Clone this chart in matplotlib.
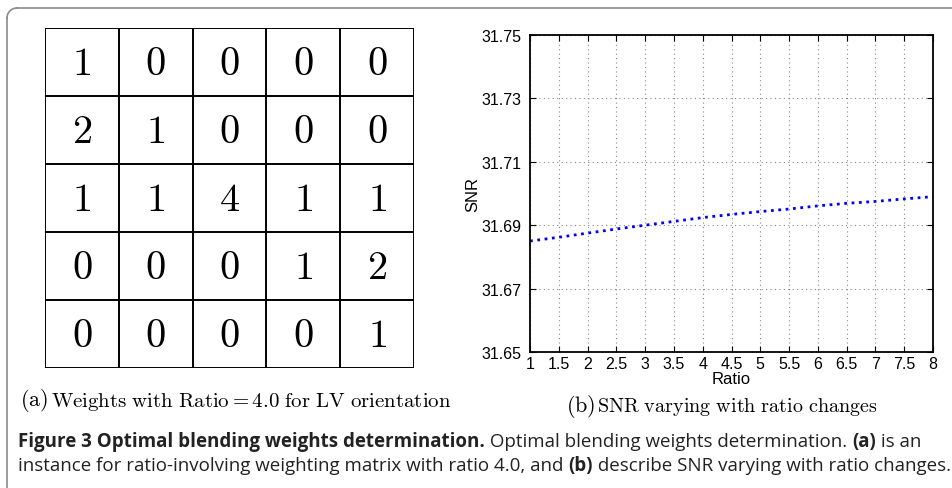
import matplotlib
matplotlib.use("Agg")
import matplotlib.pyplot as plt
from matplotlib.lines import Line2D
import numpy as np

weights = [[1, 0, 0, 0, 0],
           [2, 1, 0, 0, 0],
           [1, 1, 4, 1, 1],
           [0, 0, 0, 1, 2],
           [0, 0, 0, 0, 1]]

ratio = [1, 1.5, 2, 2.5, 3, 3.5, 4, 4.5, 5, 5.5, 6, 6.5, 7, 7.5, 8]
snr = [31.6850, 31.6862, 31.6875, 31.6888, 31.6900, 31.6912, 31.6924, 31.6934,
       31.6943, 31.6951, 31.6961, 31.6969, 31.6975, 31.6983, 31.6990]

xticks = [1, 1.5, 2, 2.5, 3, 3.5, 4, 4.5, 5, 5.5, 6, 6.5, 7, 7.5, 8]
xticklabels = ["1", "1.5", "2", "2.5", "3", "3.5", "4", "4.5", "5", "5.5", "6", "6.5", "7", "7.5", "8"]
yticks = [31.65, 31.67, 31.69, 31.71, 31.73, 31.75]
yticklabels = ["31.65", "31.67", "31.69", "31.71", "31.73", "31.75"]

caption_line1 = [("Figure 3 Optimal blending weights determination.", 'bold'),
                 (" Optimal blending weights determination. ", 'normal'),
                 ("(a)", 'bold'), (" is an", 'normal')]
caption_line2 = [("instance for ratio-involving weighting matrix with ratio 4.0, and ", 'normal'),
                 ("(b)", 'bold'), (" describe SNR varying with ratio changes.", 'normal')]

plt.rcParams['mathtext.fontset'] = 'cm'
W, H = 952, 489
fig = plt.figure(figsize=(W / 100, H / 100), dpi=100)


def fx(px):
    return px / W


def fy(py):
    return 1 - py / H


# frame: top and left gray lines with rounded corner
r = 10
fig.add_artist(Line2D([fx(7 + r), 1.0], [fy(9), fy(9)], color='#8a8a8a', lw=1.2))
fig.add_artist(Line2D([fx(7), fx(7)], [fy(9 + r), 0.0], color='#8a8a8a', lw=1.2))
theta = np.linspace(np.pi / 2, np.pi, 20)
fig.add_artist(Line2D(fx(7 + r + r * np.cos(theta)), fy(9 + r - r * np.sin(theta)),
                      color='#8a8a8a', lw=1.2))

# (a) matrix
ax1 = fig.add_axes([fx(45), fy(369), fx(414) - fx(45), fy(29) - fy(369)])
ax1.set_xlim(0, 5)
ax1.set_ylim(5, 0)
for k in range(6):
    ax1.plot([k, k], [0, 5], color='black', lw=1.4, solid_capstyle='projecting')
    ax1.plot([0, 5], [k, k], color='black', lw=1.4, solid_capstyle='projecting')
for i in range(5):
    for j in range(5):
        ax1.text(j + 0.5, i + 0.52, r"$%d$" % weights[i][j], ha='center', va='center',
                 fontsize=29)
ax1.axis('off')

fig.text(fx(20), fy(401), r"$(\mathrm{a})$", fontsize=16, va='center', ha='left')
fig.text(fx(51), fy(402), r"$\mathrm{Weights\ with\ Ratio} = 4.0\ \mathrm{for\ LV\ orientation}$",
         fontsize=15, va='center', ha='left')

# (b) line plot
ax2 = fig.add_axes([fx(530), fy(353), fx(933) - fx(530), fy(36) - fy(353)])
ax2.plot(ratio, snr, linestyle=':', color='#0000ff', lw=2.0)
ax2.set_xlim(1, 8)
ax2.set_ylim(31.65, 31.75)
ax2.set_xticks(xticks)
ax2.set_xticklabels(xticklabels)
ax2.set_yticks(yticks)
ax2.set_yticklabels(yticklabels)
ax2.tick_params(direction='in', top=True, right=True, length=4, width=0.8,
                labelsize=11.5)
ax2.tick_params(axis='x', pad=3)
ax2.tick_params(axis='y', pad=6)
for lab in ax2.get_xticklabels() + ax2.get_yticklabels():
    lab.set_family('Liberation Sans')
ax2.grid(True, linestyle=(0, (1, 3)), color='#888888', lw=0.8)
for s in ax2.spines.values():
    s.set_linewidth(1.3)
ax2.set_xlabel("Ratio", family='Liberation Sans', fontsize=12, labelpad=0)
ax2.set_ylabel("SNR", family='Liberation Sans', fontsize=12, labelpad=1)

fig.text(fx(566), fy(406), r"$(\mathrm{b})$", fontsize=16, va='center', ha='left')
fig.text(fx(597), fy(407), r"$\mathrm{SNR\ varying\ with\ ratio\ changes}$",
         fontsize=14.5, va='center', ha='left')

# caption
cap_font = ['Open Sans', 'DejaVu Sans']
renderer = fig.canvas.get_renderer()


def put_line(pieces, x0, y0, size):
    x = x0
    for txt, wt in pieces:
        t = fig.text(fx(x), fy(y0), txt, fontsize=size, fontweight=wt, family=cap_font,
                     va='center', ha='left', color='#222222')
        bb = t.get_window_extent(renderer=renderer)
        x += bb.width


put_line(caption_line1, 18, 442, 13.5)
put_line(caption_line2, 18, 466, 13.5)

fig.savefig("out.png", dpi=100)
